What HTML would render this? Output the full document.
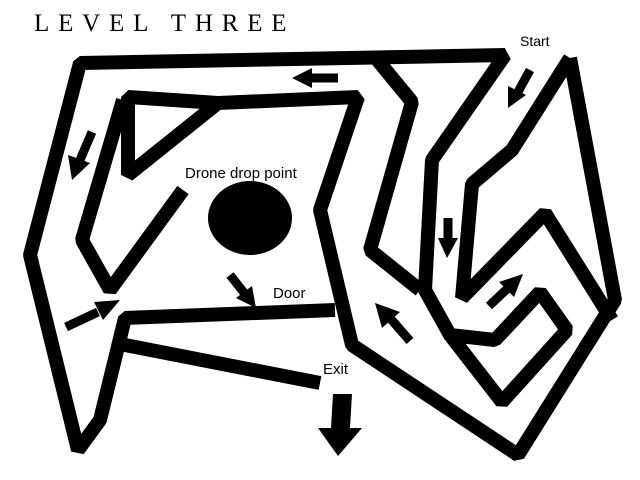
<!DOCTYPE html>
<html><head><style>
html,body{margin:0;padding:0;background:#fff;}
svg{display:block;}
text{font-family:"Liberation Sans",sans-serif;fill:#000;}
</style></head><body>
<svg width="640" height="480" viewBox="0 0 640 480" xmlns="http://www.w3.org/2000/svg">
<text x="34" y="31" font-size="25" letter-spacing="8.8" style="font-family:'Liberation Serif',serif">LEVEL THREE</text>
<text x="520" y="46" font-size="14">Start</text>
<text x="185" y="178" font-size="15">Drone drop point</text>
<text x="273" y="298" font-size="15">Door</text>
<text x="323" y="374" font-size="15">Exit</text>
<g fill="none" stroke="#000" stroke-width="14" stroke-linejoin="bevel">
<polyline points="335,310 125,318 100,420 78,450 30,255 80,63 505,55 432,160 425,290 450,335 502,402 567,330 540,292 495,340 450,335"/>
<polyline points="570,58 615,300 518,455 352,345 320,210 358,97 218,103 128,97 128,175 218,103"/>
<polyline points="123,100 82,240 110,290 183,190"/>
<polyline points="375,57 412,102 370,250 420,290"/>
<polyline points="570,58 512,150 472,184 462,298 545,213 612,320"/>
<polyline points="125,345 320,383"/>
</g>
<ellipse cx="250" cy="218" rx="42" ry="37" fill="#000"/>
<g stroke="#000" stroke-width="9" fill="#000">
<line x1="338" y1="78" x2="310" y2="78"/><polygon points="292,78 312,68 312,88" stroke="none"/>
<line x1="92" y1="132" x2="80" y2="160"/><polygon points="72,180 68,155 90,163" stroke="none"/>
<line x1="530" y1="70" x2="518" y2="92"/><polygon points="508,108 508,86 526,95" stroke="none"/>
<line x1="448" y1="218" x2="448" y2="240"/><polygon points="447,258 438,238 458,238" stroke="none"/>
<line x1="66" y1="327" x2="98" y2="312"/><polygon points="120,300 94,302 103,320" stroke="none"/>
<line x1="230" y1="275" x2="245" y2="294"/><polygon points="256,308 236,298 252,286" stroke="none"/>
<line x1="410" y1="341" x2="390" y2="318"/><polygon points="375,303 382,328 400,312" stroke="none"/>
<line x1="489" y1="306" x2="508" y2="288"/><polygon points="523,274 499,282 514,297" stroke="none"/>
</g>
<polygon points="333,394 352,394 350,428 362,428 338,456 318,428 331,428" fill="#000"/>
</svg>
</body></html>
